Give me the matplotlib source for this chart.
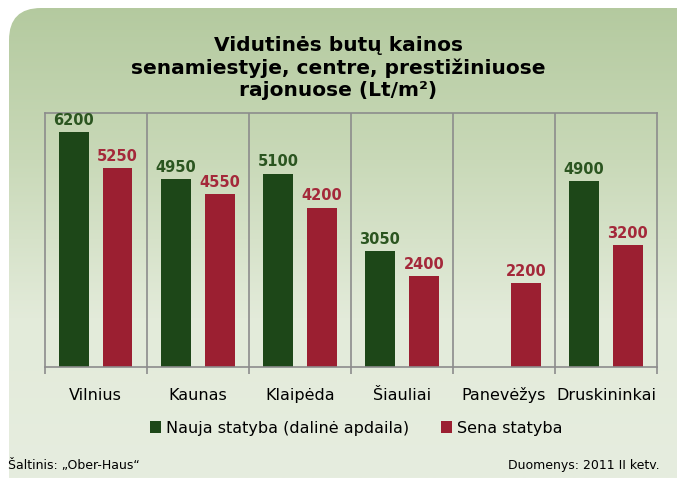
import numpy as np
import matplotlib.pyplot as plt
from matplotlib.patches import FancyBboxPatch
from matplotlib.colors import LinearSegmentedColormap

cities = ["Vilnius", "Kaunas", "Klaipėda", "Šiauliai", "Panevėžys", "Druskininkai"]
naujos = [6200, 4950, 5100, 3050, np.nan, 4900]
senos = [5250, 4550, 4200, 2400, 2200, 3200]
label_new = "Nauja statyba (dalinė apdaila)"
label_old = "Sena statyba"

green = "#1d4718"
red = "#9b1f31"
green_txt = "#2b5520"
red_txt = "#a4283a"

W, H = 677, 478
fig = plt.figure(figsize=(W / 100, H / 100), dpi=100)

# background: rounded box with a green gradient
bg = fig.add_axes([0, 0, 1, 1])
bg.set_xlim(0, W)
bg.set_ylim(H, 0)
bg.axis("off")
cmap = LinearSegmentedColormap.from_list("bg", ["#b3c99e", "#c9d9b8", "#e3ebda", "#e6eddf"])
grad = np.linspace(0, 1, 256).reshape(-1, 1)
img = bg.imshow(grad, cmap=cmap, extent=[0, W, H, 0], aspect="auto", zorder=0)
box = FancyBboxPatch((9 + 32, 8 + 32), 720, 480, boxstyle="round,pad=32",
                     fc="none", ec="none", transform=bg.transData)
bg.add_patch(box)
img.set_clip_path(box)

ax = fig.add_axes([44.7 / W, 1 - 366.7 / H, (657 - 44.7) / W, (366.7 - 113.3) / H])
ax.patch.set_alpha(0)

x = np.arange(len(cities))
bw = 0.29
off = 0.215
ax.bar(x - off, naujos, bw, color=green, label=label_new, zorder=2)
ax.bar(x + off, senos, bw, color=red, label=label_old, zorder=2)

for i in range(len(cities)):
    if not np.isnan(naujos[i]):
        ax.text(x[i] - off, naujos[i] + 110, f"{naujos[i]:.0f}", ha="center", va="bottom",
                color=green_txt, fontsize=10.5, fontweight="bold")
    ax.text(x[i] + off, senos[i] + 110, f"{senos[i]:.0f}", ha="center", va="bottom",
            color=red_txt, fontsize=10.5, fontweight="bold")

ax.set_xlim(-0.5, len(cities) - 0.5)
ax.set_ylim(0, 6690)
ax.set_yticks([])
ax.set_xticks(np.arange(len(cities) + 1) - 0.5)
ax.set_xticklabels([])
ax.tick_params(axis="x", which="major", length=5, color="#8c8c8c", width=1.2)
for b in np.arange(1, len(cities)) - 0.5:
    ax.axvline(b, color="#8c8c8c", lw=1.2, zorder=1)
for s in ax.spines.values():
    s.set_color("#8c8c8c")
    s.set_linewidth(1.2)

# category labels on a common baseline
for i, c in enumerate(cities):
    ax.text(x[i], 0, c, transform=ax.get_xaxis_transform(), ha="center", va="baseline",
            fontsize=11.5)
    ax.texts[-1].set_y(-(400 - 366.7) / (366.7 - 113.3))

# legend
fig.legend(loc="center", bbox_to_anchor=(356 / W, 1 - 428 / H), ncol=2, frameon=False,
           fontsize=11.5, handlelength=0.7, handleheight=0.7, handletextpad=0.3,
           columnspacing=2.0)

fig.text(8 / W, 1 - 466 / H, "Šaltinis: „Ober-Haus“", fontsize=9, va="center", ha="left")
fig.text(660 / W, 1 - 466 / H, "Duomenys: 2011 II ketv.", fontsize=9, va="center", ha="right")

fig.text(0.5, 1 - 68 / H, "Vidutinės butų kainos\nsenamiestyje, centre, prestižiniuose\nrajonuose (Lt/m²)",
         ha="center", va="center", fontsize=14.5, fontweight="bold", linespacing=1.2)

fig.savefig("out.png", dpi=100)
